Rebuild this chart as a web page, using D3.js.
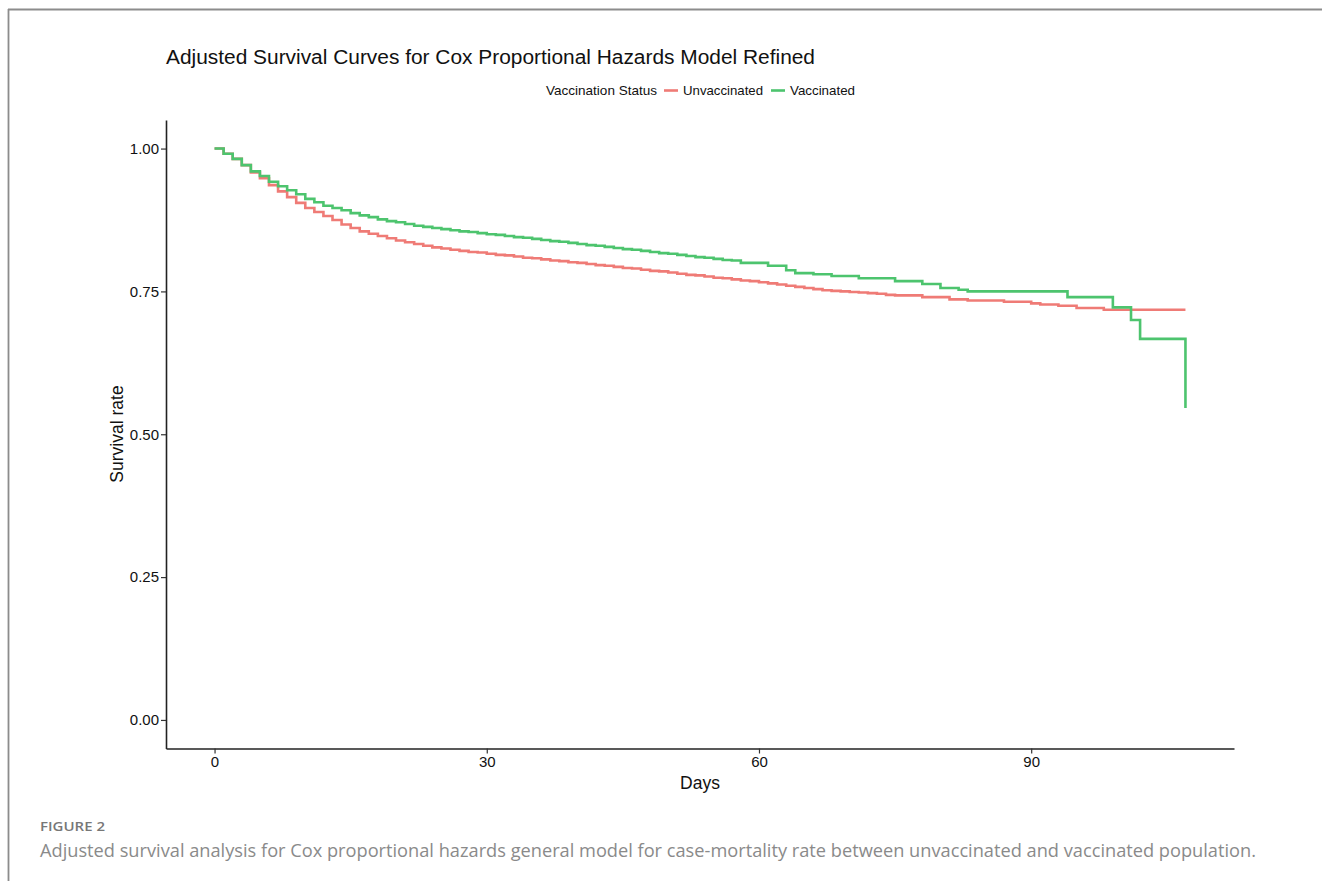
<!DOCTYPE html>
<html>
<head>
<meta charset="utf-8">
<script src="https://cdn.jsdelivr.net/npm/d3@7"></script>
<style>
  body { margin: 0; background: #fff; }
  svg { display: block; }
</style>
</head>
<body>
<svg width="1322" height="881"></svg>
<script>
// survival steps (day, adjusted survival)
const unvaxDays = [0, 1, 2, 3, 4, 5, 6, 7, 8, 9, 10, 11, 12, 13, 14, 15, 16, 17, 18, 19, 20,
  21, 22, 23, 24, 25, 26, 27, 28, 29, 30, 31, 32, 33, 34, 35, 36, 37, 38, 39, 40,
  41, 42, 43, 44, 45, 46, 47, 48, 49, 50, 51, 52, 53, 54, 55, 56, 57, 58, 59, 60,
  61, 62, 63, 64, 65, 66, 67, 68, 69, 70, 71, 72, 73, 74, 75, 78, 81, 83, 87, 90,
  91, 93, 95, 98, 107]
const unvaxSurv = [1.000, 0.991, 0.982, 0.971, 0.958, 0.948, 0.936, 0.925, 0.915, 0.905, 0.896,
  0.889, 0.882, 0.875, 0.867, 0.861, 0.855, 0.851, 0.847, 0.843, 0.839,
  0.836, 0.833, 0.830, 0.827, 0.825, 0.823, 0.821, 0.819, 0.818, 0.816,
  0.814, 0.813, 0.811, 0.809, 0.808, 0.806, 0.804, 0.803, 0.801, 0.800,
  0.798, 0.796, 0.795, 0.793, 0.791, 0.790, 0.788, 0.786, 0.785, 0.783,
  0.781, 0.779, 0.778, 0.776, 0.774, 0.773, 0.771, 0.769, 0.768, 0.766,
  0.764, 0.762, 0.760, 0.758, 0.756, 0.754, 0.752, 0.751, 0.750, 0.749,
  0.748, 0.747, 0.746, 0.744, 0.743, 0.740, 0.736, 0.734, 0.732, 0.729,
  0.727, 0.725, 0.721, 0.718, 0.718]

const vaxDays = [0, 1, 2, 3, 4, 5, 6, 7, 8, 9, 10, 11, 12, 13, 14, 15, 16, 17, 18, 19, 20,
  21, 22, 23, 24, 25, 26, 27, 28, 29, 30, 31, 32, 33, 34, 35, 36, 37, 38, 39, 40,
  41, 42, 43, 44, 45, 46, 47, 48, 49, 50, 51, 52, 53, 54, 55, 56, 57, 58, 61, 63,
  64, 66, 68, 71, 75, 78, 80, 82, 83, 94, 99, 101, 102, 107, 107]
const vaxSurv = [1.000, 0.991, 0.982, 0.971, 0.960, 0.952, 0.942, 0.934, 0.927, 0.920, 0.912,
  0.906, 0.900, 0.896, 0.892, 0.887, 0.883, 0.880, 0.876, 0.873, 0.871,
  0.868, 0.865, 0.863, 0.861, 0.859, 0.857, 0.855, 0.854, 0.852, 0.850,
  0.849, 0.847, 0.845, 0.844, 0.842, 0.840, 0.838, 0.837, 0.835, 0.833,
  0.831, 0.830, 0.828, 0.826, 0.824, 0.823, 0.821, 0.819, 0.817, 0.816,
  0.814, 0.812, 0.810, 0.809, 0.807, 0.805, 0.804, 0.800, 0.795, 0.787,
  0.782, 0.780, 0.777, 0.773, 0.768, 0.763, 0.756, 0.753, 0.750, 0.740,
  0.722, 0.700, 0.667, 0.667, 0.546]

const groups = ['Unvaccinated', 'Vaccinated']
const colors = ['#EF7B76', '#4DC46E']
const xTicks = [0, 30, 60, 90]
const yTicks = [0, 0.25, 0.5, 0.75, 1]

const series = [
  { name: groups[0], color: colors[0], pts: unvaxDays.map((d, i) => [d, unvaxSurv[i]]) },
  { name: groups[1], color: colors[1], pts: vaxDays.map((d, i) => [d, vaxSurv[i]]) }
]

const svg = d3.select('svg')
const font = "'Liberation Sans', Arial, sans-serif"

// page frame (top and left rules)
svg.append('line').attr('x1', 8).attr('x2', 1322).attr('y1', 9.5).attr('y2', 9.5)
  .attr('stroke', '#8c8c8c').attr('stroke-width', 1.8)
svg.append('line').attr('x1', 8.5).attr('x2', 8.5).attr('y1', 9).attr('y2', 881)
  .attr('stroke', '#8c8c8c').attr('stroke-width', 1.8)

const x = d3.scaleLinear().domain([-5.35, 112.35]).range([166, 1234])
const y = d3.scaleLinear().domain([-0.05, 1.05]).range([748.5, 120])

// axes
const gx = svg.append('g').attr('transform', 'translate(0,748.5)')
  .call(d3.axisBottom(x).tickValues(xTicks).tickSize(5).tickPadding(3).tickSizeOuter(0))
const gy = svg.append('g').attr('transform', 'translate(166,0)')
  .call(d3.axisLeft(y).tickValues(yTicks).tickFormat(d3.format('.2f')).tickSize(5).tickPadding(2).tickSizeOuter(0))

for (const g of [gx, gy]) {
  g.select('.domain').attr('stroke', '#222').attr('stroke-width', 1.6)
  g.selectAll('.tick line').attr('stroke', '#333').attr('stroke-width', 1.2)
  g.selectAll('.tick text').attr('fill', '#111').attr('font-family', font).attr('font-size', 15)
}

// curves
const line = d3.line()
  .x(d => x(d[0]))
  .y(d => y(d[1]))
  .curve(d3.curveStepAfter)

svg.append('g').selectAll('path')
  .data(series)
  .enter()
  .append('path')
  .attr('d', d => line(d.pts))
  .attr('fill', 'none')
  .attr('stroke', d => d.color)
  .attr('stroke-width', 2.6)

// title
svg.append('text')
  .attr('x', 166).attr('y', 64)
  .attr('font-family', font).attr('font-size', 19.5).attr('fill', '#111')
  .attr('textLength', 649).attr('lengthAdjust', 'spacingAndGlyphs')
  .text('Adjusted Survival Curves for Cox Proportional Hazards Model Refined')

// legend
const lg = svg.append('g').attr('font-family', font).attr('font-size', 13).attr('fill', '#111')
lg.append('text').attr('x', 546).attr('y', 95)
  .attr('textLength', 111).attr('lengthAdjust', 'spacingAndGlyphs')
  .text('Vaccination Status')
const legendPos = [{ key: 664, label: 683, w: 80 }, { key: 771, label: 790, w: 65 }]
groups.forEach((name, i) => {
  lg.append('line')
    .attr('x1', legendPos[i].key).attr('x2', legendPos[i].key + 14)
    .attr('y1', 90.5).attr('y2', 90.5)
    .attr('stroke', colors[i]).attr('stroke-width', 2.6)
  lg.append('text').attr('x', legendPos[i].label).attr('y', 95)
    .attr('textLength', legendPos[i].w).attr('lengthAdjust', 'spacingAndGlyphs')
    .text(name)
})

// axis titles
svg.append('text')
  .attr('x', 700).attr('y', 789)
  .attr('text-anchor', 'middle')
  .attr('font-family', font).attr('font-size', 17.5).attr('fill', '#111')
  .text('Days')
svg.append('text')
  .attr('transform', 'translate(123,434) rotate(-90)')
  .attr('text-anchor', 'middle')
  .attr('font-family', font).attr('font-size', 17.5).attr('fill', '#111')
  .text('Survival rate')

// figure caption
const capFont = "'Open Sans', 'Noto Sans', sans-serif"
svg.append('text')
  .attr('x', 40).attr('y', 831)
  .attr('font-family', capFont).attr('font-size', 12.5).attr('font-weight', 600).attr('fill', '#777')
  .attr('textLength', 65).attr('lengthAdjust', 'spacingAndGlyphs')
  .text('FIGURE 2')
svg.append('text')
  .attr('x', 40).attr('y', 857)
  .attr('font-family', capFont).attr('font-size', 18.5).attr('fill', '#8a8a8a')
  .attr('textLength', 1216).attr('lengthAdjust', 'spacingAndGlyphs')
  .text('Adjusted survival analysis for Cox proportional hazards general model for case-mortality rate between unvaccinated and vaccinated population.')
</script>
</body>
</html>
